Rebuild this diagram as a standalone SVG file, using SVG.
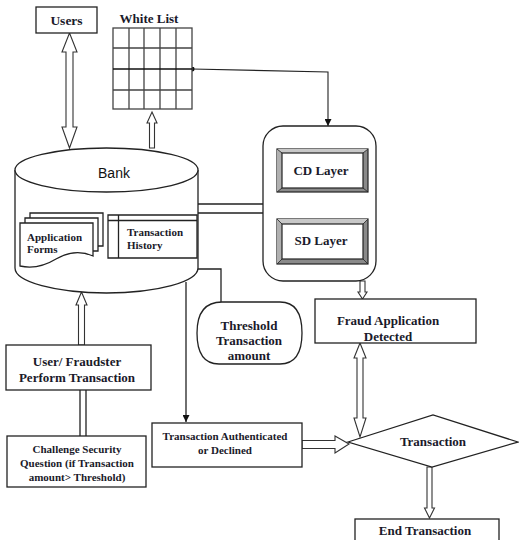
<svg xmlns="http://www.w3.org/2000/svg" width="519" height="540" viewBox="0 0 519 540">
<defs>
<style>
.s{fill:#fff;stroke:#222;stroke-width:1.3}
.ln{fill:none;stroke:#222;stroke-width:1.3}
.ha{fill:#fff;stroke:#333;stroke-width:1.1}
.t{font-family:'Liberation Serif','Times New Roman',serif;font-weight:bold;fill:#1a1a2a;text-anchor:middle}
.l{text-anchor:start}
.g{fill:none;stroke:#444;stroke-width:1.3}
</style>
<marker id="arr" viewBox="0 0 10 10" refX="10" refY="5" markerWidth="7" markerHeight="7" orient="auto" markerUnits="userSpaceOnUse"><path d="M0,0 L10,5 L0,10 Z" fill="#111"/></marker>
<marker id="dot" viewBox="0 0 6 6" refX="3" refY="3" markerWidth="5" markerHeight="5" markerUnits="userSpaceOnUse"><circle cx="3" cy="3" r="3" fill="#111"/></marker>
</defs>
<rect width="519" height="540" fill="#fff"/>

<g id="connectors">
<polygon class="ha" points="69.5,33 77,52 73,52 73,127 77,127 69.5,148 62,127 66,127 66,52 62,52"/>
<polygon class="ha" points="152,112 157,123 154.5,123 154.5,148 149.5,148 149.5,123 147,123"/>
<polyline class="ln" points="192,69 328,72 328,126" marker-start="url(#dot)" marker-end="url(#arr)" style="stroke-width:1.1"/>
<path class="ln" d="M198,204 H263 M198,213 H263"/>
<path class="ln" d="M323,192 V219 M328,192 V219"/>
<polyline class="ln" points="190,269 221,269 221,302"/>
<line class="ln" x1="186" y1="282" x2="186" y2="422" marker-end="url(#arr)"/>
<polygon class="ha" points="81.5,292 87,305 84.5,305 84.5,345 78.5,345 78.5,305 76,305"/>
<path class="ln" d="M80,390 V436 M86,390 V436"/>
<polygon class="ha" points="362.5,299 367,292 365,292 365,281 360,281 360,292 358,292"/>
<polygon class="ha" points="360,343 366,358 363,358 363,418 366,418 360,437 354,418 357,418 357,358 354,358"/>
<polygon class="ha" points="349,444 335,436 335,440.5 302,440.5 302,448.5 335,448.5 335,453"/>
<polygon class="ha" points="429.5,518 434.5,508 432,508 432,467 427,467 427,508 424.5,508"/>
</g>

<g id="users">
<rect class="s" x="36" y="7" width="61" height="26"/>
<text class="t" x="66.5" y="25" font-size="13.5">Users</text>
</g>

<g id="whitelist">
<text class="t" x="149" y="23" font-size="13">White List</text>
<rect class="s" x="113" y="28" width="79" height="81" style="stroke:#444"/>
<path class="g" d="M129,28 V109 M144,28 V109 M160,28 V109 M176,28 V109 M113,48 H192 M113,90 H192"/>
<path d="M113,69 H192" stroke="#111" stroke-width="1.5"/>
</g>

<g id="bank">
<path class="s" d="M15,170 V268 A91.5,25 0 0 0 198,268 V170"/>
<ellipse class="s" cx="106.5" cy="170" rx="91.5" ry="22"/>
<text x="114" y="178" font-family="'Liberation Sans', Arial, sans-serif" font-size="14" fill="#111" text-anchor="middle">Bank</text>
<path class="s" d="M30,218 V213 H103 V246 H98"/>
<path class="s" d="M25,223 V218 H98 V251 H93"/>
<path class="s" d="M20,223 H93 V256 Q75,248 56,259 Q38,270 20,266 Z"/>
<text class="t l" x="27" y="241" font-size="11">Application</text>
<text class="t l" x="27" y="253" font-size="11">Forms</text>
<path class="s" d="M108,215 H197 V258 H108 Z"/>
<path class="ln" d="M108,220.5 H197 M118.5,215 V258"/>
<text class="t l" x="127" y="236" font-size="11">Transaction</text>
<text class="t l" x="127" y="249" font-size="11">History</text>
</g>

<g id="layers">
<rect class="s" x="263" y="126" width="113" height="155" rx="20" ry="20"/>
<g id="cdlayer">
<rect x="277" y="149" width="91" height="43" fill="#8a8a8a" stroke="#222" stroke-width="1.2"/>
<path d="M277,149 L282,153 H363 L368,149 Z" fill="#c8c8c8"/>
<path d="M277,149 L282,153 V188 L277,192 Z" fill="#b0b0b0"/>
<path class="ln" d="M277,149 L282,153 M368,149 L363,153 M277,192 L282,188 M368,192 L363,188" style="stroke-width:0.8"/>
<rect x="282" y="153" width="81" height="35" fill="#fff" stroke="#222" stroke-width="1.2"/>
<text class="t" x="321" y="175" font-size="13">CD Layer</text>
</g>
<g id="sdlayer">
<rect x="277" y="219" width="91" height="45" fill="#8a8a8a" stroke="#222" stroke-width="1.2"/>
<path d="M277,219 L282,224 H363 L368,219 Z" fill="#c8c8c8"/>
<path d="M277,219 L282,224 V259 L277,264 Z" fill="#b0b0b0"/>
<path class="ln" d="M277,219 L282,224 M368,219 L363,224 M277,264 L282,259 M368,264 L363,259" style="stroke-width:0.8"/>
<rect x="282" y="224" width="81" height="35" fill="#fff" stroke="#222" stroke-width="1.2"/>
<text class="t" x="321" y="245" font-size="13">SD Layer</text>
</g>
</g>

<g id="threshold">
<path class="s" d="M222,302 H280 Q302,302 302,333 Q302,364 280,364 H219 Q197,364 197,333 Q197,302 222,302 Z"/>
<text class="t" x="249" y="330" font-size="13">Threshold</text>
<text class="t" x="249" y="345" font-size="13">Transaction</text>
<text class="t" x="249" y="360" font-size="13">amount</text>
</g>

<g id="fraud">
<rect class="s" x="315" y="299" width="161" height="44"/>
<text class="t" x="388" y="325" font-size="13">Fraud Application</text>
<text class="t" x="388" y="341" font-size="13">Detected</text>
</g>

<g id="userfraudster">
<rect class="s" x="6" y="345" width="145" height="45"/>
<text class="t" x="77" y="366" font-size="13">User/ Fraudster</text>
<text class="t" x="77" y="382" font-size="13">Perform Transaction</text>
</g>

<g id="challenge">
<rect class="s" x="7" y="436" width="139" height="51"/>
<text class="t" x="77" y="453" font-size="11">Challenge Security</text>
<text class="t" x="77" y="467" font-size="11">Question (if Transaction</text>
<text class="t" x="77" y="481" font-size="11">amount&gt; Threshold)</text>
</g>

<g id="authenticated">
<rect class="s" x="152" y="423" width="150" height="44"/>
<text class="t" x="225" y="440" font-size="11">Transaction Authenticated</text>
<text class="t" x="225" y="454" font-size="11">or Declined</text>
</g>

<g id="transaction">
<polygon class="s" points="348,442 433,415 518,442 432,467"/>
<text class="t" x="433" y="446" font-size="13">Transaction</text>
</g>

<g id="end">
<rect class="s" x="355" y="519" width="144" height="24"/>
<text class="t" x="425" y="535" font-size="13">End Transaction</text>
</g>
</svg>
